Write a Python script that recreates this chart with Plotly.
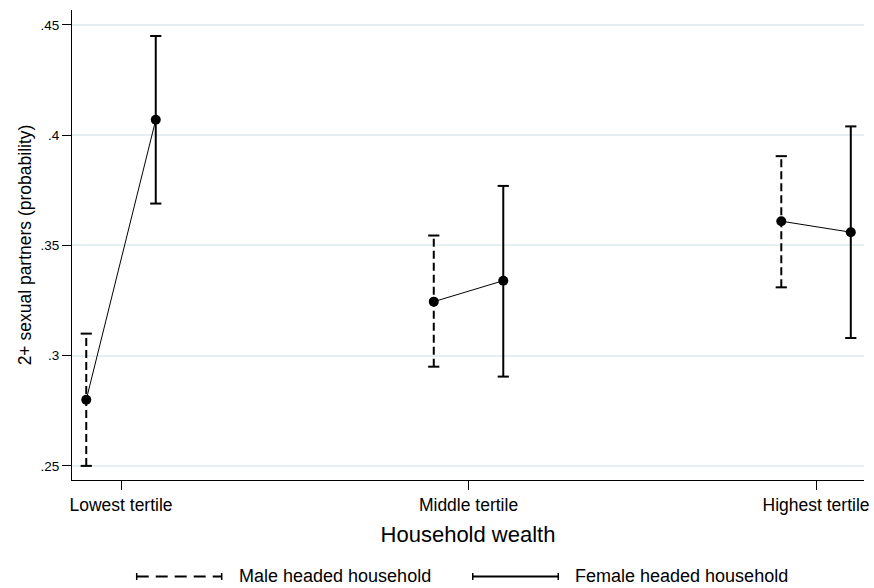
import plotly.graph_objects as go

# ---- data ----
categories = ["Lowest tertile", "Middle tertile", "Highest tertile"]
male_est = [0.280, 0.3245, 0.361]
male_lo = [0.250, 0.295, 0.331]
male_hi = [0.310, 0.3545, 0.3905]
female_est = [0.407, 0.334, 0.356]
female_lo = [0.369, 0.2905, 0.308]
female_hi = [0.445, 0.377, 0.404]
y_tickvals = [0.25, 0.30, 0.35, 0.40, 0.45]
y_ticktext = [".25", ".3", ".35", ".4", ".45"]
series_names = ["Male headed household", "Female headed household"]
x_title = "Household wealth"
y_title = "2+ sexual partners (probability)"

FONT = "Liberation Sans, Arial, Helvetica, sans-serif"
OFFSET = 0.1
pos = [i + 1 for i in range(len(categories))]
xm = [p - OFFSET for p in pos]
xf = [p + OFFSET for p in pos]

fig = go.Figure()

# confidence intervals
def add_ci(xs, los, his, dash):
    for x, lo, hi in zip(xs, los, his):
        fig.add_trace(go.Scatter(
            x=[x, x], y=[lo, hi], mode="lines+markers",
            line=dict(color="black", width=2, dash=dash),
            marker=dict(symbol="line-ew", size=8, color="black",
                        line=dict(width=2, color="black")),
            showlegend=False, hoverinfo="skip"))

add_ci(xm, male_lo, male_hi, "8px,4px")
add_ci(xf, female_lo, female_hi, "solid")

# connecting lines within each category
for i in range(len(categories)):
    fig.add_trace(go.Scatter(
        x=[xm[i], xf[i]], y=[male_est[i], female_est[i]], mode="lines",
        line=dict(color="black", width=1), showlegend=False, hoverinfo="skip"))

# point estimates
fig.add_trace(go.Scatter(x=xm, y=male_est, mode="markers", name=series_names[0],
                         marker=dict(size=10, color="black"), showlegend=False))
fig.add_trace(go.Scatter(x=xf, y=female_est, mode="markers", name=series_names[1],
                         marker=dict(size=10, color="black"), showlegend=False))

# manual legend (paper coordinates, below the plot)
yl = -0.2053
cap = 0.0074
legend_items = [
    (0.0817, 0.189, "12px,7px", 0.208, series_names[0]),
    (0.506, 0.614, "solid", 0.632, series_names[1]),
]
shapes = []
annotations = []
for x0, x1, dash, xt, label in legend_items:
    shapes.append(dict(type="line", xref="paper", yref="paper", x0=x0, x1=x1, y0=yl, y1=yl,
                       line=dict(color="black", width=2, dash=dash)))
    for xc in (x0, x1):
        shapes.append(dict(type="line", xref="paper", yref="paper", x0=xc, x1=xc,
                           y0=yl - cap, y1=yl + cap, line=dict(color="black", width=1.5)))
    annotations.append(dict(xref="paper", yref="paper", x=xt, y=yl, text=label,
                            showarrow=False, xanchor="left", yanchor="middle",
                            font=dict(family=FONT, size=18, color="black")))

fig.update_layout(
    width=874, height=588,
    margin=dict(l=72, r=10, t=10, b=108),
    paper_bgcolor="white", plot_bgcolor="white",
    font=dict(family=FONT, color="black"),
    shapes=shapes, annotations=annotations,
    showlegend=False,
)
fig.update_xaxes(
    range=[0.859, 3.138], tickvals=pos, ticktext=categories,
    ticks="outside", ticklen=9, tickwidth=1, tickcolor="black",
    showline=True, linecolor="black", linewidth=1,
    showgrid=False, zeroline=False, automargin=False,
    tickfont=dict(family=FONT, size=17.5, color="black"),
    title=dict(text=x_title, font=dict(family=FONT, size=22, color="black"), standoff=12),
)
fig.update_yaxes(
    range=[0.2436, 0.4568], tickvals=y_tickvals, ticktext=y_ticktext,
    ticks="outside", ticklen=9, tickwidth=1, tickcolor="black",
    showline=True, linecolor="black", linewidth=1,
    showgrid=True, gridcolor="#e6eff1", gridwidth=1.5, zeroline=False, automargin=False,
    tickfont=dict(family=FONT, size=13.5, color="black"),
    title=dict(text=y_title, font=dict(family=FONT, size=17.5, color="black"), standoff=4),
)

fig.write_html("out.html", config={"displayModeBar": False},
               post_script="document.body.style.margin='0px';document.body.style.padding='0px';")
